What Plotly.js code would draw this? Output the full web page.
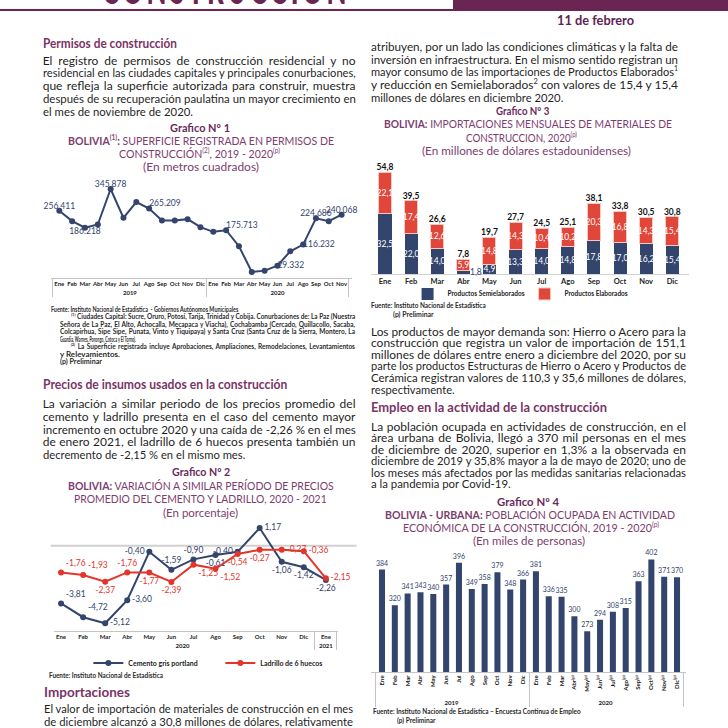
<!DOCTYPE html>
<html><head><meta charset="utf-8">
<script src="https://cdn.plot.ly/plotly-3.0.1.min.js"></script>
<style>
html,body{margin:0;padding:0;background:#fff;}
#page{position:relative;width:728px;height:728px;overflow:hidden;font-family:Lato,'Open Sans',sans-serif;}
.t{position:absolute;white-space:nowrap;}
.t>span{display:inline-block;white-space:nowrap;transform-origin:0 50%;}
.body{font-size:12px;color:#1f1f1f;}
.h{font-size:13.5px;font-weight:700;color:#7a3467;}
.gno{font-size:11px;font-weight:700;color:#6b2a5c;}
.gt{font-size:11px;color:#7d3d6f;}
.gt b{font-weight:700;}
.fn{font-size:6.5px;font-weight:700;color:#2b2b2b;}
.date{font-size:12.5px;font-weight:700;color:#5e2353;}
.big{font-size:44px;font-weight:900;color:#6b2553;letter-spacing:6px;}
sup{font-size:62%;line-height:0;vertical-align:super;}
.chart{position:absolute;}
.bar{position:absolute;background:#6b2553;}
</style></head>
<body>
<div id="page">
  <div class="bar" style="left:453px;top:0;width:275px;height:9px;"></div>
  <div class="bar" style="left:0;top:9px;width:728px;height:1.5px;"></div>
  <div id="c1" class="chart" style="left:40px;top:172px;width:320px;height:136px;"></div>
  <div id="c2" class="chart" style="left:40px;top:512px;width:320px;height:190px;"></div>
  <div id="c3" class="chart" style="left:364px;top:150px;width:340px;height:200px;"></div>
  <div id="c4" class="chart" style="left:364px;top:540px;width:340px;height:188px;"></div>
</div>
<script>
// ---------------- DATA ----------------
const months = ['Ene','Feb','Mar','Abr','May','Jun','Jul','Ago','Sep','Oct','Nov','Dic'];

// Grafico 1: superficie registrada (m2), Ene 2019 - Nov 2020
const permYears  = ['2019','2019','2019','2019','2019','2019','2019','2019','2019','2019','2019','2019',
                    '2020','2020','2020','2020','2020','2020','2020','2020','2020','2020','2020'];
const permMonths = ['Ene','Feb','Mar','Abr','May','Jun','Jul','Ago','Sep','Oct','Nov','Dic',
                    'Ene','Feb','Mar','Abr','May','Jun','Jul','Ago','Sep','Oct','Nov'];
const permValues = [256411, 213200, 186218, 199400, 345878, 227000, 292000, 265209, 216000, 216000, 221500, 188300,
                    169000, 175713, 109600, 3100, 8700, 29332, 88800, 116232, 224686, 213200, 240068];
const permLabelIdx = [0, 2, 4, 7, 13, 17, 19, 20, 22];

// Grafico 2: variación a similar periodo (%)
const precYears  = ['2020','2020','2020','2020','2020','2020','2020','2020','2020','2020','2020','2020','2021'];
const precMonths = ['Ene','Feb','Mar','Abr','May','Jun','Jul','Ago','Sep','Oct','Nov','Dic','Ene'];
const cementoValues  = [-3.81, -4.72, -5.12, -3.60, -0.40, -1.59, -0.90, -0.61, -0.40, 1.17, -1.06, -1.42, -2.26];
const ladrilloValues = [-1.76, -1.93, -2.37, -1.76, -1.77, -2.39, -1.25, -1.52, -0.54, -0.27, -0.27, -0.36, -2.15];

// Grafico 3: importaciones 2020 (millones USD)
const semiValues  = [32.5, 22.0, 14.0, 1.8, 4.9, 13.3, 14.0, 14.8, 17.8, 17.0, 16.2, 15.4];
const elabValues  = [22.1, 17.4, 12.6, 5.9, 14.8, 14.3, 10.4, 10.2, 20.3, 16.8, 14.3, 15.4];
const totalValues = [54.8, 39.5, 26.6, 7.8, 19.7, 27.7, 24.5, 25.1, 38.1, 33.8, 30.5, 30.8];

// Grafico 4: población ocupada (miles)
const empYears  = ['2019','2019','2019','2019','2019','2019','2019','2019','2019','2019','2019','2019',
                   '2020','2020','2020','2020','2020','2020','2020','2020','2020','2020','2020','2020'];
const empMonths = ['Ene','Feb','Mar','Abr','May','Jun','Jul','Ago','Sep','Oct','Nov','Dic',
                   'Ene','Feb','Mar','Abr<sup>(p)</sup>','May<sup>(p)</sup>','Jun<sup>(p)</sup>','Jul<sup>(p)</sup>',
                   'Ago<sup>(p)</sup>','Sep<sup>(p)</sup>','Oct<sup>(p)</sup>','Nov<sup>(p)</sup>','Dic<sup>(p)</sup>'];
const empValues = [384, 320, 341, 343, 340, 357, 396, 349, 358, 379, 348, 366,
                   381, 336, 335, 300, 273, 294, 308, 315, 363, 402, 371, 370];

// ---------------- TEXT ----------------
const page = document.getElementById('page');
const fits = [];
function T(x0, x1, yc, html, cls, mode, lh) {
  lh = lh || 14;
  const d = document.createElement('div');
  d.className = 't ' + cls;
  d.style.left = x0 + 'px'; d.style.width = (x1 - x0) + 'px';
  d.style.top = (yc - lh / 2) + 'px'; d.style.height = lh + 'px'; d.style.lineHeight = lh + 'px';
  const s = document.createElement('span'); s.innerHTML = html; d.appendChild(s);
  page.appendChild(d);
  fits.push({s: s, W: x1 - x0, mode: mode || 'fit'});
}
function P(x0, x1, yc0, pitch, lines, lastEnd, cls, lh) {
  lines.forEach((ln, i) => {
    const last = (i === lines.length - 1) && lastEnd;
    T(x0, last ? lastEnd : x1, yc0 + i * pitch, ln, cls || 'body', 'just', lh);
  });
}
function doFit() {
  fits.forEach(f => {
    f.s.style.transform = ''; f.s.style.wordSpacing = '';
    const w = f.s.getBoundingClientRect().width;
    if (!w) return;
    if (f.mode === 'fit' || w > f.W) {
      f.s.style.transform = 'scaleX(' + (f.W / w) + ')';
    } else {
      const n = (f.s.textContent.match(/ /g) || []).length;
      if (n) f.s.style.wordSpacing = ((f.W - w) / n) + 'px';
    }
  });
}

// header
T(102, 350, -13, 'CONSTRUCCIÓN', 'big', 'fit', 44);
T(557, 634, 21, '11 de febrero', 'date', 'fit');

// left column
T(42.7, 176.7, 42.5, 'Permisos de construcción', 'h', 'fit');
P(42.7, 355.5, 61, 12.7, [
  'El registro de permisos de construcción residencial y no',
  'residencial en las ciudades capitales y principales conurbaciones,',
  'que refleja la superficie autorizada para construir, muestra',
  'después de su recuperación paulatina un mayor crecimiento en',
  'el mes de noviembre de 2020.'
], 192.7, 'body', 12.5);

T(170, 230, 127, 'Grafico Nº 1', 'gno', 'fit', 13);
T(68, 334, 140.5, '<b>BOLIVIA<sup>(1)</sup>:</b> SUPERFICIE REGISTRADA EN PERMISOS DE', 'gt', 'fit', 13);
T(119, 280, 153.5, 'CONSTRUCCIÓN<sup>(2)</sup>, 2019 - 2020<sup>(p)</sup>', 'gt', 'fit', 13);
T(143, 259, 166.5, '(En metros cuadrados)', 'gt', 'fit', 13);

T(50.7, 238, 309, 'Fuente: Instituto Nacional de Estadística&nbsp; - Gobiernos Autónomos Municipales', 'fn', 'fit', 7);
T(70.7, 355, 316.5, '<sup>(1)</sup> Ciudades Capital: Sucre, Oruro, Potosí, Tarija, Trinidad y Cobija. Conurbaciones de: La Paz (Nuestra', 'fn', 'just', 7);
T(60, 355, 324, 'Señora de La Paz, El Alto, Achocalla, Mecapaca y Viacha), Cochabamba (Cercado, Quillacollo, Sacaba,', 'fn', 'just', 7);
T(60, 355, 331.5, 'Colcapirhua, Sipe Sipe, Punata, Vinto y Tiquipaya) y Santa Cruz (Santa Cruz de la Sierra, Montero, La', 'fn', 'just', 7);
T(60, 136, 339, 'Guardia, Warnes, Porongo, Cotoca y El Torno).', 'fn', 'fit', 7);
T(70.7, 355, 346.5, '<sup>(2)</sup> La Superficie registrada incluye Aprobaciones, Ampliaciones, Remodelaciones, Levantamientos', 'fn', 'just', 7);
T(60, 120, 354, 'y Relevamientos.', 'fn', 'fit', 7);
T(60, 102, 361.5, '(p) Preliminar', 'fn', 'fit', 7);

T(42.7, 287, 384, 'Precios de insumos usados en la construcción', 'h', 'fit');
P(42.7, 355.5, 404.5, 12.7, [
  'La variación a similar periodo de los precios promedio del',
  'cemento y ladrillo presenta en el caso del cemento mayor',
  'incremento en octubre 2020 y una caída de -2,26 % en el mes',
  'de enero 2021, el ladrillo de 6 huecos presenta también un',
  'decremento de -2,15 % en el mismo mes.'
], 245, 'body', 12.5);

T(171.7, 230, 471.5, 'Grafico Nº 2', 'gno', 'fit', 13);
T(68.3, 334, 485, '<b>BOLIVIA:</b> VARIACIÓN A SIMILAR PERÍODO DE PRECIOS', 'gt', 'fit', 13);
T(74, 326.7, 498.5, 'PROMEDIO DEL CEMENTO Y LADRILLO, 2020 - 2021', 'gt', 'fit', 13);
T(163.3, 238.3, 512, '(En porcentaje)', 'gt', 'fit', 13);
T(49.3, 163.3, 675.5, 'Fuente: Instituto Nacional de Estadística', 'fn', 'fit', 7);

T(44, 130, 692, 'Importaciones', 'h', 'fit');
P(44, 353, 709, 13, [
  'El valor de importación de materiales de construcción en el mes',
  'de diciembre alcanzó a 30,8 millones de dólares, relativamente'
], null, 'body', 12.5);

// right column
P(371, 678, 47, 12.8, [
  'atribuyen, por un lado las condiciones climáticas y la falta de',
  'inversión en infraestructura. En el mismo sentido registran un',
  'mayor consumo de las importaciones de Productos Elaborados<sup>1</sup>',
  'y reducción en Semielaborados<sup>2</sup> con valores de 15,4 y 15,4',
  'millones de dólares en diciembre 2020.'
], 563.3, 'body', 12.5);

T(495.7, 549, 110, 'Grafico Nº 3', 'gno', 'fit', 13);
T(384, 672, 123.5, '<b>BOLIVIA:</b> IMPORTACIONES MENSUALES DE MATERIALES DE', 'gt', 'fit', 13);
T(466, 577, 137, 'CONSTRUCCION, 2020<sup>(p)</sup>', 'gt', 'fit', 13);
T(422, 631, 150, '(En millones de dólares estadounidenses)', 'gt', 'fit', 13);
T(371, 485.7, 305.5, 'Fuente: Instituto Nacional de Estadística', 'fn', 'fit', 7);
T(393.3, 434, 314, '(p) Preliminar', 'fn', 'fit', 7);

P(371, 686, 331.5, 11.55, [
  'Los productos de mayor demanda son: Hierro o Acero para la',
  'construcción que registra un valor de importación de 151,1',
  'millones de dólares entre enero a diciembre del 2020, por su',
  'parte los productos Estructuras de Hierro o Acero y Productos de',
  'Cerámica registran valores de 110,3 y 35,6 millones de dólares,',
  'respectivamente.'
], 454.7, 'body', 11.5);

T(371, 607, 407, 'Empleo en la actividad de la construcción', 'h', 'fit');
P(371, 686, 426.7, 11.5, [
  'La población ocupada en actividades de construcción, en el',
  'área urbana de Bolivia, llegó a 370 mil personas en el mes',
  'de diciembre de 2020, superior en 1,3% a la observada en',
  'diciembre de 2019 y 35,8% mayor a la de mayo de 2020; uno de',
  'los meses más afectados por las medidas sanitarias relacionadas',
  'a la pandemia por Covid-19.'
], 510.7, 'body', 11.5);

T(497, 559, 501.5, 'Grafico Nº 4', 'gno', 'fit', 13);
T(384.7, 674.7, 514, '<b>BOLIVIA - URBANA:</b> POBLACIÓN OCUPADA EN ACTIVIDAD', 'gt', 'fit', 13);
T(403, 659, 527, 'ECONÓMICA DE LA CONSTRUCCIÓN, 2019 - 2020<sup>(p)</sup>', 'gt', 'fit', 13);
T(473, 585, 540.7, '(En miles de personas)', 'gt', 'fit', 13);
T(373, 580.7, 711.7, 'Fuente: Instituto Nacional de Estadística – Encuesta Continua de Empleo', 'fn', 'fit', 7);
T(397.3, 435.7, 720.7, '(p) Preliminar', 'fn', 'fit', 7);

doFit();
if (document.fonts && document.fonts.ready) document.fonts.ready.then(doFit);

// ---------------- CHARTS ----------------
const NAVY = '#33446d', RED = '#e3352b', RED3 = '#e0473a';
const FONT = 'Lato, sans-serif';
const cfg = {staticPlot: true, displayModeBar: false};
function L(extra) {
  return Object.assign({
    paper_bgcolor: 'rgba(0,0,0,0)', plot_bgcolor: 'rgba(0,0,0,0)',
    font: {family: FONT, size: 8, color: '#222'}, showlegend: false, separators: ',.'
  }, extra);
}
const catTick = {size: 6, family: FONT, weight: 700, color: '#222'};

// Grafico 1
const permTextPos = ['top center', 'bottom center', 'top center', 'top right', 'top right',
                     'middle right', 'middle right', 'top center', 'top center'];
Plotly.newPlot('c1', [{
  type: 'scatter', mode: 'lines+markers',
  x: [permYears, permMonths], y: permValues,
  line: {color: NAVY, width: 2}, marker: {color: NAVY, size: 6},
  cliponaxis: false, hoverinfo: 'skip'
}, {
  type: 'scatter', mode: 'text',
  x: [permLabelIdx.map(i => permYears[i]), permLabelIdx.map(i => permMonths[i])],
  y: permLabelIdx.map(i => permValues[i]),
  texttemplate: '%{y:,.0f}', textposition: permTextPos,
  textfont: {size: 8.5, color: NAVY, family: FONT}, cliponaxis: false, hoverinfo: 'skip'
}], L({
  margin: {l: 10.7, r: 8.3, t: 8, b: 30.3},
  xaxis: {type: 'multicategory', range: [-0.647, 22.81], showline: true, linecolor: '#c4c4c4', linewidth: 1,
          ticks: '', showgrid: false, zeroline: false, showdividers: true, dividercolor: '#c4c4c4', dividerwidth: 1,
          tickangle: 0, tickfont: catTick},
  yaxis: {range: [-21700, 383200], visible: false}
}), cfg);

// Grafico 2
const cemPos = ['top right','top right','middle right','middle right','middle left','top center','top center',
                'bottom center','middle left','middle right','bottom center','bottom center','bottom center'];
const ladPos = ['top right','top right','bottom center','top center','bottom center','bottom center','bottom right',
                'bottom right','bottom center','bottom center','middle right','middle right','middle right'];
Plotly.newPlot('c2', [
  {type: 'scatter', mode: 'lines+markers+text', name: 'Cemento gris portland',
   x: [precYears, precMonths], y: cementoValues,
   line: {color: NAVY, width: 2}, marker: {color: NAVY, size: 6},
   texttemplate: '%{y:.2f}', textposition: cemPos, textfont: {size: 8.5, color: NAVY, family: FONT},
   cliponaxis: false, hoverinfo: 'skip'},
  {type: 'scatter', mode: 'lines+markers+text', name: 'Ladrillo de 6 huecos',
   x: [precYears, precMonths], y: ladrilloValues,
   line: {color: RED, width: 2}, marker: {color: RED, size: 6},
   texttemplate: '%{y:.2f}', textposition: ladPos, textfont: {size: 8.5, color: RED, family: FONT},
   cliponaxis: false, hoverinfo: 'skip'}
], L({
  showlegend: true,
  legend: {orientation: 'h', x: 0.121, xanchor: 'left', y: -0.284, yanchor: 'middle',
           entrywidth: 87, entrywidthmode: 'pixels',
           font: {size: 7, family: FONT, weight: 700, color: '#222'}, itemwidth: 30, bgcolor: 'rgba(0,0,0,0)'},
  margin: {l: 14, r: 21.7, t: 6, b: 71.3},
  xaxis: {type: 'multicategory', range: [-0.32, 12.55], showline: true, linecolor: '#c4c4c4', linewidth: 1,
          ticks: '', showgrid: false, zeroline: false, showdividers: true, dividercolor: '#c4c4c4', dividerwidth: 1,
          tickangle: 0, tickfont: catTick},
  yaxis: {range: [-5.63, 1.834], visible: false},
  shapes: [{type: 'line', xref: 'paper', yref: 'y', x0: -0.012, x1: 1.065, y0: 0, y1: 0,
            line: {color: '#d0d0d0', width: 2}, layer: 'below'}]
}), cfg);

// Grafico 3
Plotly.newPlot('c3', [
  {type: 'bar', name: 'Productos Semielaborados', x: months, y: semiValues, width: 0.5,
   marker: {color: NAVY},
   texttemplate: '%{y:.1f}',
   textposition: semiValues.map((v, i) => i === 3 ? 'none' : 'inside'),
   insidetextanchor: 'middle', textangle: 0, constraintext: 'none',
   textfont: {size: 8.5, color: '#fff', family: FONT}, hoverinfo: 'skip'},
  {type: 'bar', name: 'Productos Elaborados', x: months, y: elabValues, width: 0.5,
   marker: {color: RED3, line: {color: '#f6c8c1', width: 1}},
   texttemplate: '%{y:.1f}', textposition: 'inside', insidetextanchor: 'middle', textangle: 0, constraintext: 'none',
   textfont: {size: 8.5, color: '#fff', family: FONT}, hoverinfo: 'skip'},
  {type: 'scatter', mode: 'text', x: months, y: totalValues, showlegend: false,
   texttemplate: '%{y:.1f}', textposition: 'top center',
   textfont: {size: 8.5, color: '#111', family: FONT, weight: 700}, cliponaxis: false, hoverinfo: 'skip'}
], L({
  barmode: 'stack', showlegend: true,
  legend: {orientation: 'h', x: 0.115, xanchor: 'left', y: -0.175, yanchor: 'middle', traceorder: 'normal',
           entrywidth: 72, entrywidthmode: 'pixels',
           font: {size: 6.5, family: FONT, weight: 700, color: '#222'}, bgcolor: 'rgba(0,0,0,0)'},
  margin: {l: 6.7, r: 15, t: 10, b: 75.7},
  xaxis: {type: 'category', range: [-0.535, 11.64], showline: true, linecolor: '#d3d3d3', linewidth: 1,
          ticks: '', showgrid: false, zeroline: false, tickfont: {size: 7.5, family: FONT, weight: 700, color: '#222'}},
  yaxis: {range: [0, 61.4], visible: false},
  annotations: [{x: months[3], y: semiValues[3] / 2, xref: 'x', yref: 'y', showarrow: false, xshift: 13,
                 text: semiValues[3].toFixed(1).replace('.', ','), font: {size: 8.5, color: NAVY, family: FONT}}]
}), cfg);

// Grafico 4
Plotly.newPlot('c4', [{
  type: 'bar', x: [empYears, empMonths], y: empValues, width: 0.47,
  marker: {color: NAVY},
  texttemplate: '%{y}', textposition: 'outside', constraintext: 'none', cliponaxis: false,
  textfont: {size: 7, color: NAVY, family: FONT}, hoverinfo: 'skip'
}], L({
  margin: {l: 7.3, r: 17.7, t: 8, b: 56.3},
  xaxis: {type: 'multicategory', range: [-0.857, 23.70], showline: true, linecolor: '#c4c4c4', linewidth: 1,
          ticks: '', showgrid: false, zeroline: false, showdividers: true, dividercolor: '#c4c4c4', dividerwidth: 1,
          tickangle: -90, tickfont: catTick},
  yaxis: {range: [200, 422.6], visible: false}
}), cfg);
</script>
</body></html>
